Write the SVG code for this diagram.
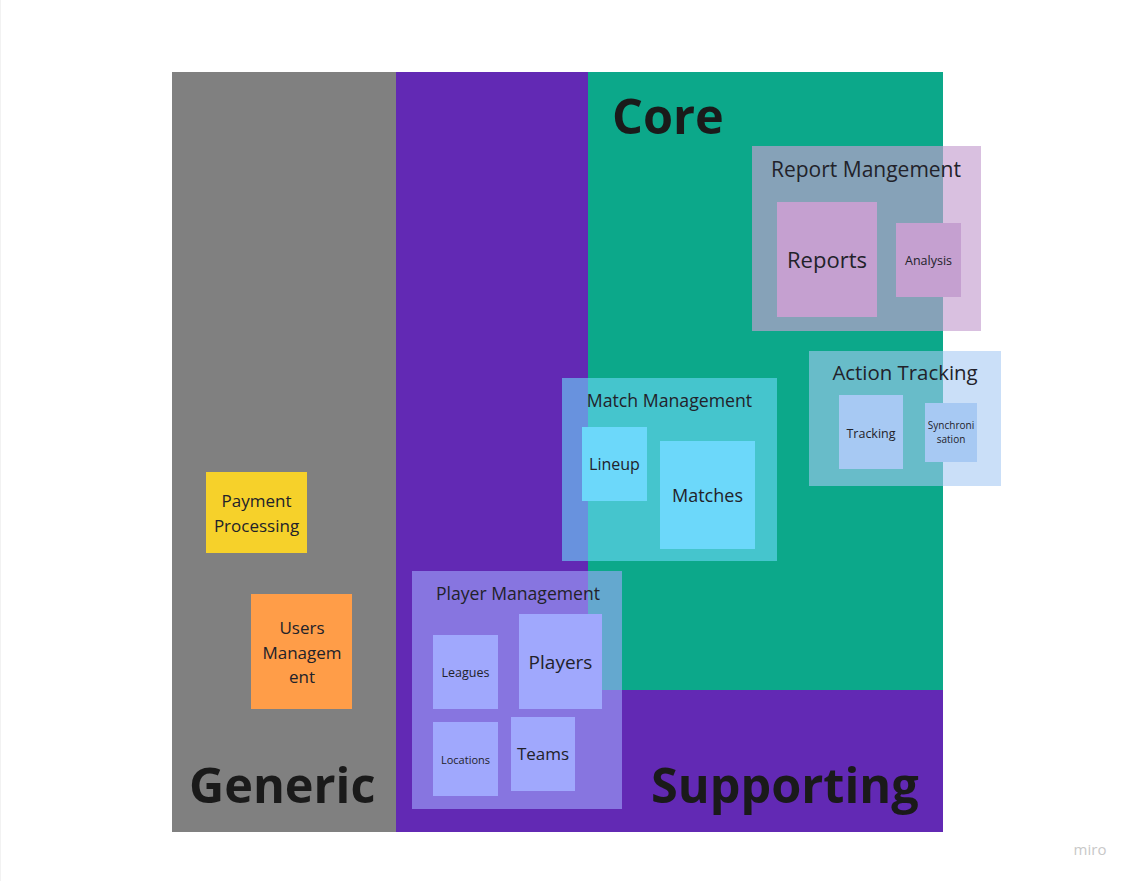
<svg xmlns="http://www.w3.org/2000/svg" width="1134" height="881" viewBox="0 0 1134 881">
<style>
text{font-family:"Open Sans","Noto Sans","Liberation Sans",sans-serif;fill:#22222a;text-anchor:middle}
.big{font-weight:bold;font-size:48.6px;fill:#1a1a1a;text-anchor:start}
.rep{fill:#c5a0d0}
.act{fill:#a7c9f3}
.mat{fill:#6cd8fa}
.ply{fill:#a0a8fd}
</style>
<rect width="1134" height="881" fill="#ffffff"/>
<line x1="0.5" y1="0" x2="0.5" y2="881" stroke="#f2f2f2"/>
<g id="generic-zone"><rect x="172" y="72" width="224" height="760" fill="#808080"/></g>
<g id="supporting-zone"><rect x="396" y="72" width="547" height="760" fill="#6229b4"/></g>
<g id="core-zone"><rect x="588" y="72" width="355" height="618" fill="#0ca88a"/></g>
<g id="zone-labels">
<text class="big" x="612" y="134">Core</text>
<text class="big" x="189" y="803">Generic</text>
<text class="big" x="651" y="803">Supporting</text>
</g>
<g id="report-management">
<rect class="rep" x="752" y="146" width="229" height="185" opacity="0.66"/>
<text x="866" y="177" font-size="21">Report Mangement</text>
<g id="reports"><rect class="rep" x="777" y="202" width="100" height="115"/><text x="827" y="268" font-size="22">Reports</text></g>
<g id="analysis"><rect class="rep" x="896" y="223" width="65" height="74"/><text x="928.5" y="265" font-size="12.5">Analysis</text></g>
</g>
<g id="action-tracking">
<rect class="act" x="809" y="351" width="192" height="135" opacity="0.6"/>
<text x="905" y="380" font-size="20.4">Action Tracking</text>
<g id="tracking"><rect class="act" x="839" y="395" width="64" height="74"/><text x="871" y="438" font-size="12.5">Tracking</text></g>
<g id="synchronisation"><rect class="act" x="925" y="403" width="52" height="59"/><text x="951" y="429" font-size="10">Synchroni</text><text x="951" y="443" font-size="10">sation</text></g>
</g>
<g id="match-management">
<rect class="mat" x="562" y="378" width="215" height="183" opacity="0.6"/>
<text x="669.5" y="407" font-size="17.7">Match Management</text>
<g id="lineup"><rect class="mat" x="582" y="427" width="65" height="74"/><text x="614.5" y="470" font-size="16">Lineup</text></g>
<g id="matches"><rect class="mat" x="660" y="441" width="95" height="108"/><text x="707.5" y="502" font-size="18">Matches</text></g>
</g>
<g id="player-management">
<rect class="ply" x="412" y="571" width="210" height="238" opacity="0.6"/>
<text x="518" y="600" font-size="17.6">Player Management</text>
<g id="leagues"><rect class="ply" x="433" y="635" width="65" height="74"/><text x="465.5" y="677" font-size="12.5">Leagues</text></g>
<g id="players"><rect class="ply" x="519" y="614" width="83" height="95"/><text x="560.5" y="669" font-size="19">Players</text></g>
<g id="locations"><rect class="ply" x="433" y="722" width="65" height="74"/><text x="465.5" y="764" font-size="11">Locations</text></g>
<g id="teams"><rect class="ply" x="511" y="717" width="64" height="74"/><text x="543" y="760" font-size="17">Teams</text></g>
</g>
<g id="payment-processing">
<rect x="206" y="472" width="101" height="81" fill="#f6d12a"/>
<text x="256.5" y="507" font-size="17">Payment</text>
<text x="256.5" y="532" font-size="17">Processing</text>
</g>
<g id="users-management">
<rect x="251" y="594" width="101" height="115" fill="#ff9d48"/>
<text x="302" y="634" font-size="17">Users</text>
<text x="302" y="659" font-size="17">Managem</text>
<text x="302" y="683" font-size="17">ent</text>
</g>
<g id="connectors"></g>
<text x="1090" y="855" font-size="15" style="fill:#c8c8c8" font-family="'Open Sans',sans-serif">miro</text>
</svg>
